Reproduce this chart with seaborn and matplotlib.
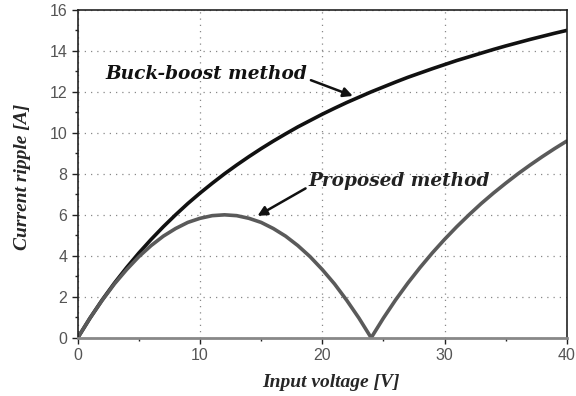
import numpy as np
import pandas as pd
import seaborn as sns
import matplotlib.pyplot as plt
from matplotlib.ticker import MultipleLocator

# input voltage [V]
voltage = list(range(0, 41))

# current ripple [A]
buck_boost = [0.00, 0.96, 1.85, 2.67, 3.43, 4.14, 4.80, 5.42, 6.00, 6.55,
              7.06, 7.54, 8.00, 8.43, 8.84, 9.23, 9.60, 9.95, 10.29, 10.60,
              10.91, 11.20, 11.48, 11.74, 12.00, 12.24, 12.48, 12.71, 12.92, 13.13,
              13.33, 13.53, 13.71, 13.89, 14.07, 14.24, 14.40, 14.56, 14.71, 14.86,
              15.00]
proposed = [0.00, 0.96, 1.83, 2.63, 3.33, 3.96, 4.50, 4.96, 5.33, 5.63,
            5.83, 5.96, 6.00, 5.96, 5.83, 5.63, 5.33, 4.96, 4.50, 3.96,
            3.33, 2.63, 1.83, 0.96, 0.00, 0.96, 1.85, 2.67, 3.43, 4.14,
            4.80, 5.42, 6.00, 6.55, 7.06, 7.54, 8.00, 8.43, 8.84, 9.23,
            9.60]

x_ticks = [0, 10, 20, 30, 40]
y_ticks = [0, 2, 4, 6, 8, 10, 12, 14, 16]

df = pd.DataFrame({
    "voltage": voltage * 2,
    "ripple": buck_boost + proposed,
    "method": ["Buck-boost method"] * len(voltage) + ["Proposed method"] * len(voltage),
})

sns.set_style("white")
plt.rcParams["font.family"] = ["Liberation Sans", "DejaVu Sans"]

fig = plt.figure(figsize=(5.76, 3.96), dpi=100)
ax = fig.add_axes([0.135, 0.147, 0.849, 0.828])

sns.lineplot(data=df, x="voltage", y="ripple", hue="method",
             palette={"Buck-boost method": "#111111", "Proposed method": "#5a5a5a"},
             linewidth=2.6, ax=ax, legend=False)

ax.set_xlim(0, 40)
ax.set_ylim(0, 16)
ax.set_xticks(x_ticks)
ax.set_yticks(y_ticks)
ax.xaxis.set_minor_locator(MultipleLocator(5))
ax.yaxis.set_minor_locator(MultipleLocator(1))
ax.tick_params(axis="both", which="major", direction="out", length=4, width=1,
               labelsize=11.5, labelcolor="#555555", color="#222222")
ax.tick_params(axis="both", which="minor", direction="out", length=2.5, width=1, color="#222222")
ax.tick_params(axis="x", bottom=True, which="both")
ax.tick_params(axis="y", left=True, which="both")
ax.grid(True, which="major", linestyle=(0, (1, 4)), color="#888888", linewidth=0.9)

for side in ["top", "right", "left"]:
    ax.spines[side].set_color("#222222")
    ax.spines[side].set_linewidth(1.2)
ax.spines["bottom"].set_color("#888888")
ax.spines["bottom"].set_linewidth(2)

label_font = {"family": ["Liberation Serif", "DejaVu Serif"], "weight": "bold",
              "style": "italic", "size": 14}
ax.set_xlabel("Input voltage [V]", fontdict=label_font)
ax.set_ylabel("Current ripple [A]", fontdict=label_font)
ax.xaxis.set_label_coords(0.517, -0.11)
ax.yaxis.set_label_coords(-0.095, 0.49)

ann_family = ["DejaVu Serif"]
ax.annotate("Buck-boost method", xy=(22.5, 11.8), xytext=(2.3, 12.65),
            fontsize=13.3, fontweight="bold", fontstyle="italic",
            family=ann_family, color="#111111",
            arrowprops=dict(arrowstyle="-|>", color="#111111", lw=1.8,
                            mutation_scale=14, shrinkA=0, shrinkB=0,
                            relpos=(1.0, 0.2)))
ax.annotate("Proposed method", xy=(14.7, 5.95), xytext=(18.9, 7.4),
            fontsize=13.3, fontweight="bold", fontstyle="italic",
            family=ann_family, color="#222222",
            arrowprops=dict(arrowstyle="-|>", color="#111111", lw=1.8,
                            mutation_scale=14, shrinkA=0, shrinkB=0,
                            relpos=(0.0, 0.2)))

fig.savefig("out.png", dpi=100)
